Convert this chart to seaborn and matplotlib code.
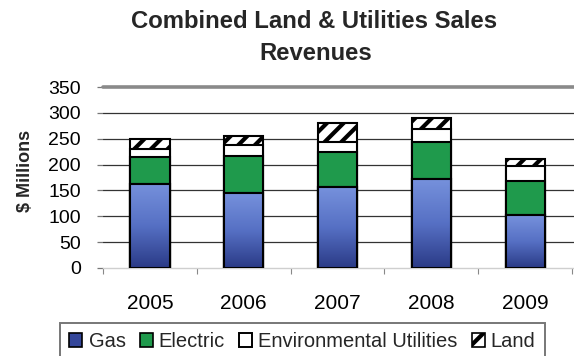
import numpy as np
import pandas as pd
import matplotlib
matplotlib.use("Agg")
import matplotlib.pyplot as plt
from matplotlib.colors import LinearSegmentedColormap
from matplotlib.patches import Patch
import seaborn as sns

# Revenue components, $ millions
years = ["2005", "2006", "2007", "2008", "2009"]
gas = [163, 145, 156, 172, 102]
electric = [52, 72, 69, 72, 67]
environmental = [15, 20, 19, 24, 28]
land = [20, 18, 37, 23, 14]
y_ticks = [0, 50, 100, 150, 200, 250, 300, 350]

sns.set_theme(style="white")
plt.rcParams["font.family"] = ["Liberation Sans", "DejaVu Sans"]
plt.rcParams["hatch.linewidth"] = 3.0
plt.rcParams["hatch.color"] = "black"

df = pd.DataFrame({"year": years, "gas": gas, "electric": electric,
                   "environmental": environmental, "land": land})
df["lvl_elec"] = df["gas"] + df["electric"]
df["lvl_env"] = df["lvl_elec"] + df["environmental"]
df["lvl_land"] = df["lvl_env"] + df["land"]

W, H = 574, 356
fig = plt.figure(figsize=(W / 100, H / 100), dpi=100)
ax = fig.add_axes([103 / W, 1 - 268 / H, (W - 103) / W, (268 - 87) / H])

bw = 0.42
edge = dict(edgecolor="black", linewidth=1.5)
# stacked by layering cumulative totals back to front
sns.barplot(data=df, x="year", y="lvl_land", color="white", width=bw,
            hatch="//", ax=ax, saturation=1, zorder=3, **edge)
sns.barplot(data=df, x="year", y="lvl_env", color="white", width=bw,
            ax=ax, saturation=1, zorder=3, **edge)
sns.barplot(data=df, x="year", y="lvl_elec", color="#1f9a4c", width=bw,
            ax=ax, saturation=1, zorder=3, **edge)
sns.barplot(data=df, x="year", y="gas", color="#4f68b8", width=bw,
            ax=ax, saturation=1, zorder=3, **edge)

# vertical shading on the gas segments
blues = LinearSegmentedColormap.from_list("gasblue", ["#7691dc", "#5670c4", "#2a3a86"])
grad = np.linspace(0, 1, 256).reshape(-1, 1)
for p in ax.containers[-1].patches:
    x0, y0 = p.get_x(), p.get_y()
    w, h = p.get_width(), p.get_height()
    im = ax.imshow(grad, cmap=blues, aspect="auto", origin="upper",
                   extent=[x0, x0 + w, y0, y0 + h], zorder=3.5)
    im.set_clip_path(p)
    ax.add_patch(plt.Rectangle((x0, y0), w, h, fill=False, zorder=3.6, **edge))

ax.set_xlim(-0.46, 4.52)
ax.set_ylim(0, 350)
ax.set_yticks(y_ticks)
ax.set_xlabel("")
ax.set_ylabel("")

for v in y_ticks[1:-1]:
    ax.axhline(v, color="#333333", linewidth=0.9, zorder=1)
ax.axhline(350, color="#8a8a8a", linewidth=2.6, zorder=1, clip_on=False)

for s in ["left", "right", "top"]:
    ax.spines[s].set_visible(False)
ax.spines["bottom"].set_color("#cfcfcf")
ax.spines["bottom"].set_linewidth(1.0)

ax.tick_params(axis="y", left=True, length=4, width=0.9, color="#777777",
               pad=12, labelsize=14, labelcolor="black")
ax.tick_params(axis="x", bottom=False, length=0, pad=19, labelsize=15,
               labelcolor="black")
ax.set_xticks(np.arange(-0.5, 5, 1), minor=True)
ax.tick_params(axis="x", which="minor", bottom=True, length=4, width=0.8,
               color="#888888", direction="out")

fig.text(314 / W, 1 - 21 / H, "Combined Land & Utilities Sales",
         ha="center", va="center", fontsize=17.2, fontweight="bold")
fig.text(316 / W, 1 - 54 / H, "Revenues",
         ha="center", va="center", fontsize=17.2, fontweight="bold")
fig.text(25 / W, 1 - 171 / H, "$ Millions", rotation=90,
         ha="center", va="center", fontsize=13, fontweight="bold")

handles = [
    Patch(facecolor="#34469a", edgecolor="black", linewidth=1.2),
    Patch(facecolor="#1f9a4c", edgecolor="black", linewidth=1.2),
    Patch(facecolor="white", edgecolor="black", linewidth=1.4),
    Patch(facecolor="white", edgecolor="black", linewidth=1.2, hatch="//"),
]
leg = fig.legend(handles, ["Gas", "Electric", "Environmental Utilities", "Land"],
                 loc="upper center", bbox_to_anchor=(302.5 / W, 1 - 323 / H),
                 ncol=4, fontsize=14.5, handlelength=0.65, handleheight=0.65,
                 handletextpad=0.3, columnspacing=0.7, borderpad=0.45,
                 borderaxespad=0, frameon=True, fancybox=False)
leg.get_frame().set_edgecolor("#555555")
leg.get_frame().set_linewidth(1.4)

fig.savefig("out.png", dpi=100)
